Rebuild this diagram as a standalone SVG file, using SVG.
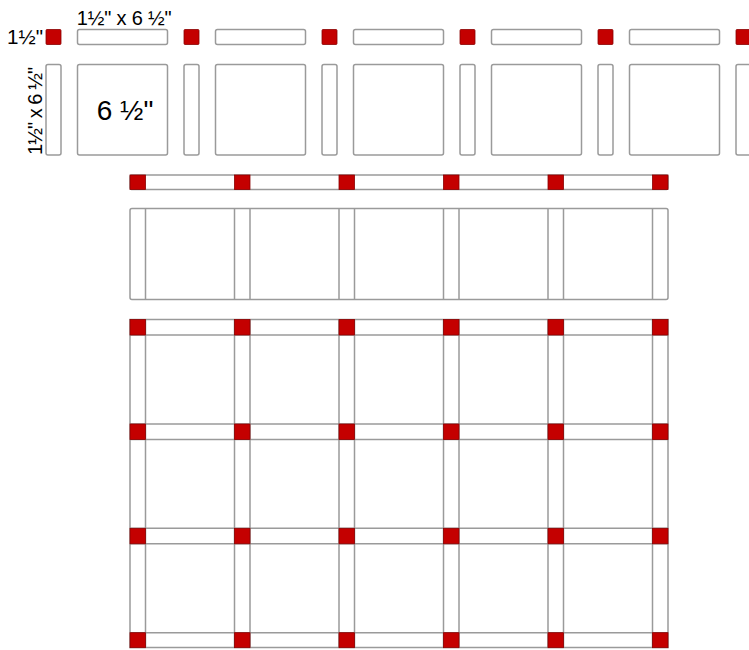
<svg xmlns="http://www.w3.org/2000/svg" width="749" height="650" viewBox="0 0 749 650">
<style>
.w{fill:#fff;stroke:#9a9a9a;stroke-width:1.5}
.r{fill:#c40000;stroke:#8a0000;stroke-width:0.8}
.g{stroke:#9a9a9a;stroke-width:1.5;fill:none}
text{font-family:"Liberation Sans",Arial,sans-serif;fill:#000}
</style>
<rect width="749" height="650" fill="#fff"/>
<g id="pieces-top">
<rect class="w" x="77.5" y="29.5" width="90" height="15" rx="2"/>
<rect class="w" x="215.5" y="29.5" width="90" height="15" rx="2"/>
<rect class="w" x="353.5" y="29.5" width="90" height="15" rx="2"/>
<rect class="w" x="491.5" y="29.5" width="90" height="15" rx="2"/>
<rect class="w" x="629.5" y="29.5" width="90" height="15" rx="2"/>
<rect class="r" x="46" y="29.5" width="15" height="15" rx="1"/>
<rect class="r" x="184" y="29.5" width="15" height="15" rx="1"/>
<rect class="r" x="322" y="29.5" width="15" height="15" rx="1"/>
<rect class="r" x="460" y="29.5" width="15" height="15" rx="1"/>
<rect class="r" x="598" y="29.5" width="15" height="15" rx="1"/>
<rect class="r" x="736" y="29.5" width="15" height="15" rx="1"/>
</g>
<g id="pieces-middle">
<rect class="w" x="46" y="64.5" width="15" height="90.5" rx="2"/>
<rect class="w" x="184" y="64.5" width="15" height="90.5" rx="2"/>
<rect class="w" x="322" y="64.5" width="15" height="90.5" rx="2"/>
<rect class="w" x="460" y="64.5" width="15" height="90.5" rx="2"/>
<rect class="w" x="598" y="64.5" width="15" height="90.5" rx="2"/>
<rect class="w" x="736" y="64.5" width="15" height="90.5" rx="2"/>
<rect class="w" x="77.5" y="64.5" width="90" height="90.5" rx="2"/>
<rect class="w" x="215.5" y="64.5" width="90" height="90.5" rx="2"/>
<rect class="w" x="353.5" y="64.5" width="90" height="90.5" rx="2"/>
<rect class="w" x="491.5" y="64.5" width="90" height="90.5" rx="2"/>
<rect class="w" x="629.5" y="64.5" width="90" height="90.5" rx="2"/>
</g>
<g id="labels">
<text x="7" y="44.3" font-size="20.5" textLength="36" lengthAdjust="spacingAndGlyphs">1½"</text>
<text x="76.7" y="25" font-size="20" textLength="95" lengthAdjust="spacing">1½" x 6 ½"</text>
<text transform="translate(41.7,155) rotate(-90)" font-size="20" textLength="88" lengthAdjust="spacing">1½" x 6 ½"</text>
<text x="96.7" y="120" font-size="28">6 ½"</text>
</g>
<g id="sashing-strip">
<rect class="w" x="130" y="175" width="538" height="14.5" rx="1.5"/>
<rect class="r" x="130" y="175" width="15.5" height="14.5"/>
<rect class="r" x="234.5" y="175" width="15.5" height="14.5"/>
<rect class="r" x="339" y="175" width="15.5" height="14.5"/>
<rect class="r" x="443.5" y="175" width="15.5" height="14.5"/>
<rect class="r" x="548" y="175" width="15.5" height="14.5"/>
<rect class="r" x="652.5" y="175" width="15.5" height="14.5"/>
</g>
<g id="block-row">
<rect class="w" x="130" y="208.5" width="538" height="91" rx="2"/>
<path class="g" d="M145.5 208.5V299.5M234.5 208.5V299.5M250 208.5V299.5M339 208.5V299.5M354.5 208.5V299.5M443.5 208.5V299.5M459 208.5V299.5M548 208.5V299.5M563.5 208.5V299.5M652.5 208.5V299.5"/>
</g>
<g id="quilt-top">
<rect class="w" x="130" y="319.5" width="538" height="328"/>
<path class="g" d="M145.5 319.5V647.5M234.5 319.5V647.5M250 319.5V647.5M339 319.5V647.5M354.5 319.5V647.5M443.5 319.5V647.5M459 319.5V647.5M548 319.5V647.5M563.5 319.5V647.5M652.5 319.5V647.5"/>
<path class="g" d="M130 335H668M130 424H668M130 439.5H668M130 528.3H668M130 543.8H668M130 632.7H668"/>
<g id="cornerstones">
<rect class="r" x="130" y="319.5" width="15.5" height="15.5"/>
<rect class="r" x="234.5" y="319.5" width="15.5" height="15.5"/>
<rect class="r" x="339" y="319.5" width="15.5" height="15.5"/>
<rect class="r" x="443.5" y="319.5" width="15.5" height="15.5"/>
<rect class="r" x="548" y="319.5" width="15.5" height="15.5"/>
<rect class="r" x="652.5" y="319.5" width="15.5" height="15.5"/>
<rect class="r" x="130" y="424" width="15.5" height="15.5"/>
<rect class="r" x="234.5" y="424" width="15.5" height="15.5"/>
<rect class="r" x="339" y="424" width="15.5" height="15.5"/>
<rect class="r" x="443.5" y="424" width="15.5" height="15.5"/>
<rect class="r" x="548" y="424" width="15.5" height="15.5"/>
<rect class="r" x="652.5" y="424" width="15.5" height="15.5"/>
<rect class="r" x="130" y="528.3" width="15.5" height="15.5"/>
<rect class="r" x="234.5" y="528.3" width="15.5" height="15.5"/>
<rect class="r" x="339" y="528.3" width="15.5" height="15.5"/>
<rect class="r" x="443.5" y="528.3" width="15.5" height="15.5"/>
<rect class="r" x="548" y="528.3" width="15.5" height="15.5"/>
<rect class="r" x="652.5" y="528.3" width="15.5" height="15.5"/>
<rect class="r" x="130" y="632.7" width="15.5" height="15"/>
<rect class="r" x="234.5" y="632.7" width="15.5" height="15"/>
<rect class="r" x="339" y="632.7" width="15.5" height="15"/>
<rect class="r" x="443.5" y="632.7" width="15.5" height="15"/>
<rect class="r" x="548" y="632.7" width="15.5" height="15"/>
<rect class="r" x="652.5" y="632.7" width="15.5" height="15"/>
</g>
</g>
</svg>
